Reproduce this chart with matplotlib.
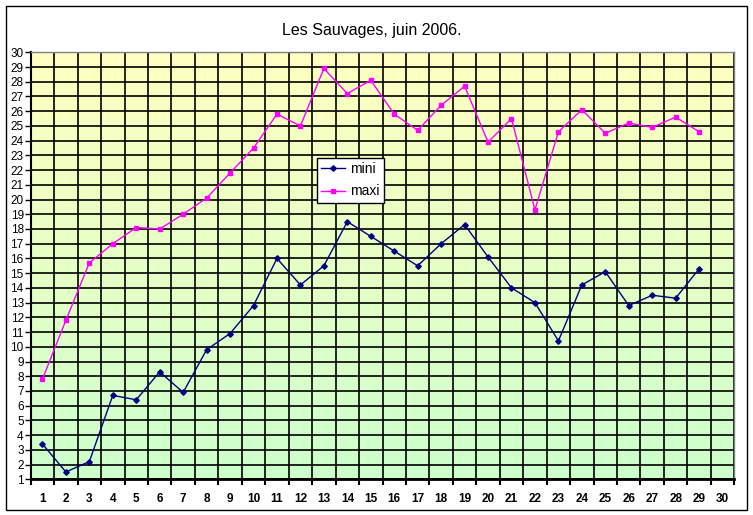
import numpy as np
import matplotlib
matplotlib.use('Agg')
import matplotlib.pyplot as plt
from matplotlib.patches import Rectangle

##### Data #####
days = list(range(1, 30))
mini = [3.4, 1.5, 2.2, 6.7, 6.4, 8.3, 6.9, 9.8, 10.9, 12.8,
        16.0, 14.2, 15.5, 18.5, 17.5, 16.5, 15.5, 17.0, 18.3, 16.1,
        14.0, 13.0, 10.4, 14.2, 15.1, 12.8, 13.5, 13.3, 15.3]
maxi = [7.8, 11.8, 15.7, 17.0, 18.1, 18.0, 19.0, 20.1, 21.8, 23.5,
        25.8, 25.0, 28.9, 27.2, 28.1, 25.8, 24.7, 26.4, 27.7, 23.9,
        25.5, 19.3, 24.6, 26.1, 24.5, 25.2, 24.9, 25.6, 24.6]
x_labels = [str(i) for i in range(1, 31)]
y_ticks = list(range(1, 31))
title = 'Les Sauvages, juin 2006.'
################

plt.rcParams['font.family'] = ['Liberation Sans', 'DejaVu Sans']

W, H = 753, 515
fig = plt.figure(figsize=(W / 100, H / 100), dpi=100)

# outer chart border
fig.patches.append(Rectangle((5.5 / W, (H - 509.5) / H), 741.5 / W, 504 / H,
                             transform=fig.transFigure, fill=False,
                             edgecolor='black', linewidth=1))

ax = fig.add_axes([30.7 / W, (H - 479.3) / H, 703.6 / W, 427 / H])
ax.set_xlim(0.5, 30.5)
ax.set_ylim(1, 30)

# yellow -> green gradient background
grad = np.linspace(0, 1, 256).reshape(-1, 1)
top = np.array([255, 255, 192]) / 255.0
bot = np.array([204, 255, 204]) / 255.0
img = top[None, None, :] * (1 - grad[:, :, None]) + bot[None, None, :] * grad[:, :, None]
ax.imshow(img, extent=(0.5, 30.5, 1, 30), aspect='auto', zorder=0, origin='upper')

# grid
for xb in np.arange(0.5, 31, 1):
    ax.axvline(xb, color='black', linewidth=1.2, zorder=1)
for yv in y_ticks:
    ax.axhline(yv, color='black', linewidth=1.2, zorder=1)

ax.plot(days, mini, color='#000080', linewidth=1, marker='D', markersize=2.8,
        markerfacecolor='#000080', markeredgecolor='#000080', label='mini', zorder=3)
ax.plot(days, maxi, color='#FF00FF', linewidth=1, marker='s', markersize=3.2,
        markerfacecolor='#FF00FF', markeredgecolor='#FF00FF', label='maxi', zorder=3)

# axes styling
ax.set_yticks(y_ticks)
ax.set_yticklabels([str(v) for v in y_ticks], fontsize=8.5)
ax.tick_params(axis='y', direction='out', length=4, width=1, pad=1)
ax.set_xticks(range(1, 31))
ax.set_xticklabels(x_labels, fontsize=8.5, fontweight='bold')
ax.set_xticks(np.arange(0.5, 31, 1), minor=True)
ax.tick_params(axis='x', which='major', length=0, pad=10)
ax.tick_params(axis='x', which='minor', direction='out', length=4, width=1.5)

for s in ['top', 'right']:
    ax.spines[s].set_color('#808080')
    ax.spines[s].set_linewidth(1)
ax.spines['left'].set_linewidth(1.5)
ax.spines['bottom'].set_linewidth(2)

fig.text(372 / W, (H - 30) / H, title, ha='center', va='center', fontsize=11.5)

leg = ax.legend(loc='upper left', bbox_to_anchor=((317 - 30.7) / 703.6, (479.3 - 158) / 427),
                fontsize=10, frameon=True, fancybox=False, edgecolor='black',
                framealpha=1, borderpad=0.3, handlelength=1.7, labelspacing=0.6,
                handletextpad=0.4, borderaxespad=0)
leg.get_frame().set_linewidth(1)

plt.savefig('out.png', dpi=100)
